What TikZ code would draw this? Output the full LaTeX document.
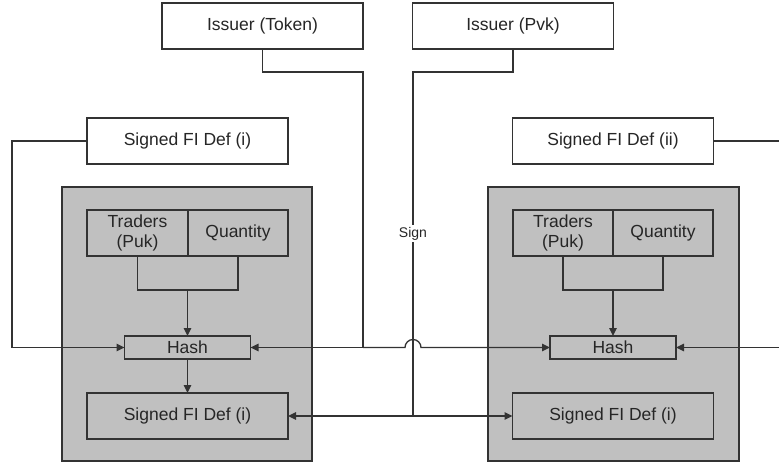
\documentclass[tikz,border=0pt]{standalone}
\usepackage{fontspec}
\setmainfont{Liberation Sans}
\usepackage{xcolor}
\usepackage{tikz}
\usetikzlibrary{shapes,arrows.meta,positioning}
\definecolor{panelgray}{HTML}{C0C0C0}
\definecolor{edgegray}{HTML}{333333}

\begin{document}
\begin{tikzpicture}[x=1pt, y=-1pt, line width=1.3pt,
  box/.style={draw=edgegray, rectangle, fill=white, minimum width=201pt, minimum height=46pt, inner sep=0pt, outer sep=0pt, text=black!85, font=\fontsize{17.5}{20}\selectfont},
  inbox/.style={box, fill=panelgray},
  panel/.style={draw=edgegray, rectangle, fill=panelgray, minimum height=274pt, outer sep=0pt},
  wire/.style={draw=edgegray},
  arr/.style={wire, -{Triangle[length=8pt,width=7.5pt]}}]
\useasboundingbox (0,0) rectangle (779,463);

\node (tok) [box] at (262.5,26) {Issuer (Token)};
\node (pvk) [box] at (513,26) {Issuer (Pvk)};
\node (defa) [box] at (187.5,141) {Signed FI Def (i)};
\node (defb) [box] at (613,141) {Signed FI Def (ii)};

% left panel
\node (pnla) [panel, minimum width=250pt] at (187,324) {};
\node (trada) [inbox, minimum width=101pt, align=center] at (137.5,233) {Traders\\(Puk)};
\node (quanta) [inbox, minimum width=100pt, right=0pt of trada] {Quantity};
\node (hasha) [inbox, minimum width=126pt, minimum height=23pt] at (187.5,347.5) {Hash};
\node (sfa) [inbox] at (187.5,416) {Signed FI Def (i)};

% right panel
\node (pnlb) [panel, minimum width=251pt] at (613.5,324) {};
\node (tradb) [inbox, minimum width=100pt, align=center] at (563,233) {Traders\\(Puk)};
\node (quantb) [inbox, minimum width=100pt, right=0pt of tradb] {Quantity};
\node (hashb) [inbox, minimum width=126pt, minimum height=23pt] at (613,347.5) {Hash};
\node (sfb) [inbox] at (613,416) {Signed FI Def (i)};

\coordinate (mrga) at (187.5,290);
\coordinate (mrgb) at (613,290);
\coordinate (tokbend) at (363,72);
\coordinate (tokjn) at (363,347.5);
\coordinate (pvkbend) at (413,72);
\coordinate (pvkjn) at (413,416);
\coordinate (jump) at (413,347.5);

\draw[wire] (trada.south) |- (mrga) -| (quanta.south);
\draw[arr] (mrga) -- (hasha.north);
\draw[arr] (hasha.south) -- (sfa.north);
\draw[wire] (tradb.south) |- (mrgb) -| (quantb.south);
\draw[arr] (mrgb) -- (hashb.north);

\draw[arr] (defa.west) -- ++(-75,0) |- (hasha.west);
\draw[arr] (defb.east) -- ++(75,0) |- (hashb.east);

\draw[wire] (tok.south) |- (tokbend) -- (tokjn);
\draw[arr] (tokjn) -- (hasha.east);
\draw[arr] (tokjn) -- ([xshift=-8pt]jump) arc[start angle=180, end angle=0, radius=8pt] -- (hashb.west);

\draw[wire] (pvk.south) |- (pvkbend) -- node (sign) [pos=.47, fill=white, inner sep=2pt, text=black!85, font=\fontsize{14}{16}\selectfont] {Sign} (pvkjn);
\draw[arr] (pvkjn) -- (sfa.east);
\draw[arr] (pvkjn) -- (sfb.west);
\end{tikzpicture}
\end{document}
